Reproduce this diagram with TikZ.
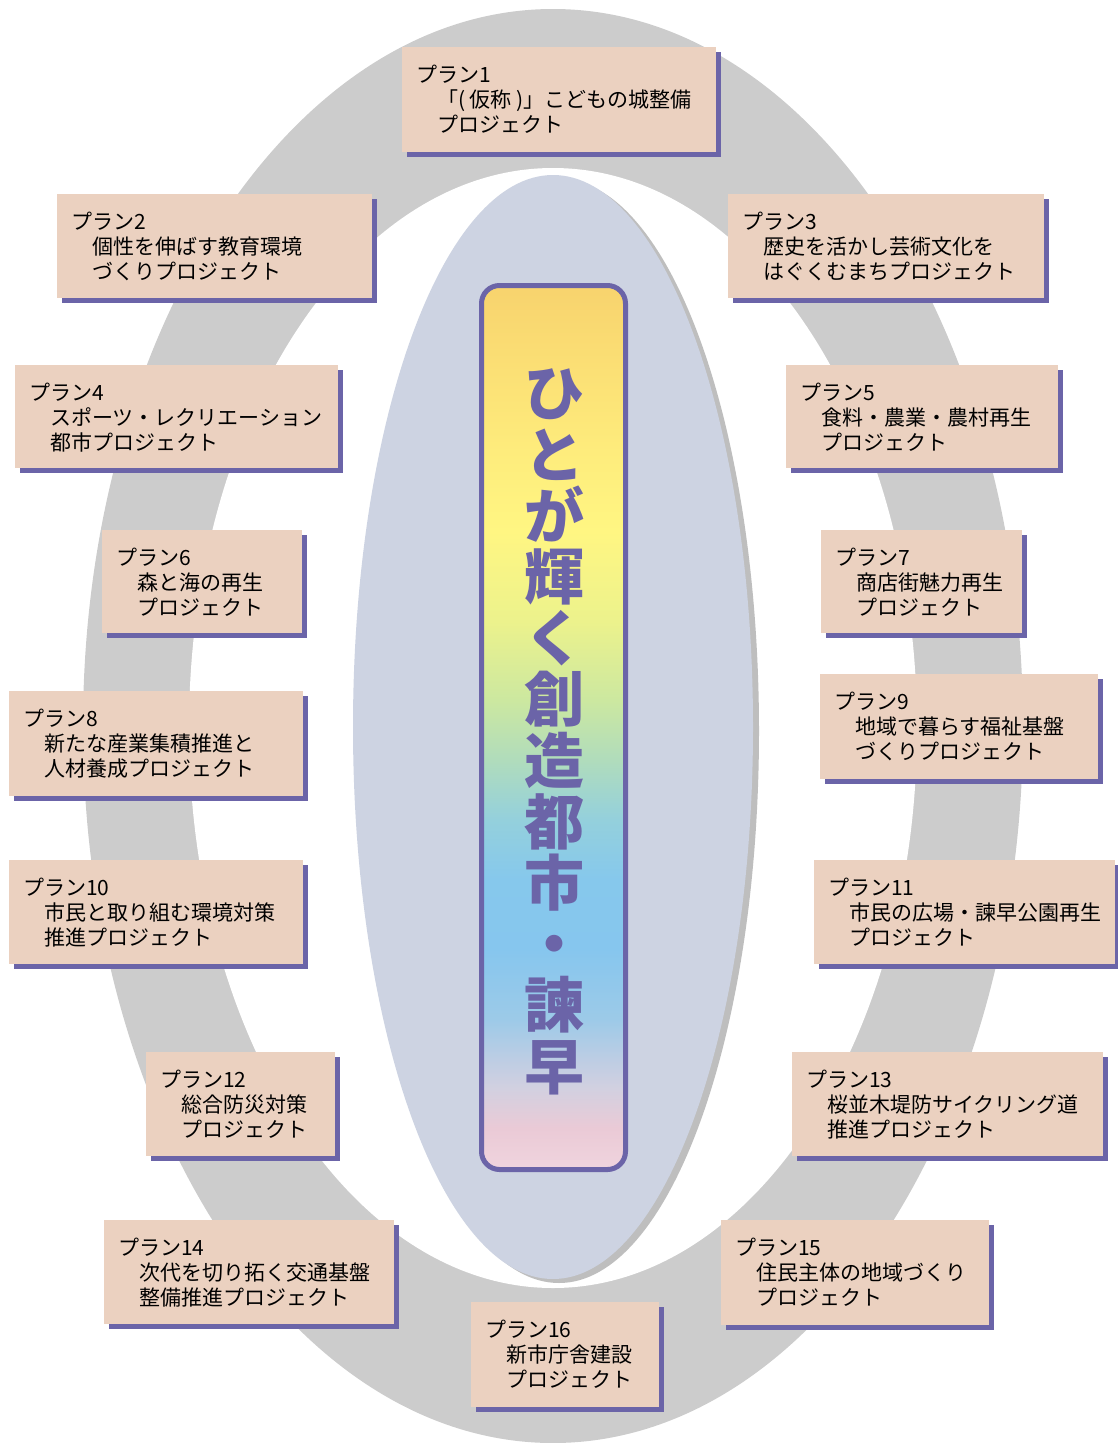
\documentclass[tikz,border=0pt]{standalone}
\usepackage{fontspec}
\newfontfamily\jpfont{Noto Sans CJK JP}
\usetikzlibrary{shadows}
\definecolor{ringgray}{HTML}{CCCCCC}
\definecolor{ellblue}{HTML}{CDD3E2}
\definecolor{ellshadow}{HTML}{BEBEBE}
\definecolor{purp}{HTML}{6B64A8}
\definecolor{peach}{HTML}{EBD1C0}
\definecolor{gA}{HTML}{F0D4DE}
\definecolor{gB}{HTML}{EACAD6}
\definecolor{gC}{HTML}{D2D0E0}
\definecolor{gD}{HTML}{BCCDE4}
\definecolor{gE}{HTML}{9CCAE8}
\definecolor{gF}{HTML}{86C6EE}
\definecolor{gG}{HTML}{86C8EC}
\definecolor{gH}{HTML}{94D0DC}
\definecolor{gI}{HTML}{B0DCBC}
\definecolor{gJ}{HTML}{CCE8A0}
\definecolor{gK}{HTML}{ECF28C}
\definecolor{gL}{HTML}{FFF682}
\definecolor{gM}{HTML}{FEEC7C}
\definecolor{gN}{HTML}{F8D46E}
\pgfdeclareverticalshading{rainbow}{100bp}{color(0bp)=(gA); color(25bp)=(gA); color(27.35bp)=(gB); color(29.6bp)=(gC); color(31.3bp)=(gD); color(33.55bp)=(gE); color(37.5bp)=(gF); color(41.4bp)=(gG); color(44.8bp)=(gH); color(48.15bp)=(gI); color(51.55bp)=(gJ); color(56bp)=(gK); color(61.1bp)=(gL); color(65.6bp)=(gM); color(74.6bp)=(gN); color(100bp)=(gN)}
\tikzset{
  planbox/.style={fill=peach, inner sep=0pt, outer sep=0pt,
    drop shadow={shadow xshift=5pt, shadow yshift=-5pt, fill=purp, opacity=1}},
  plantext/.style={align=left, inner sep=0pt, text=black,
    font=\jpfont\fontsize{21}{25}\selectfont},
  banner/.style={shade, shading=rainbow, draw=purp, line width=5pt,
    rounded corners=18pt, minimum width=144pt, minimum height=884pt, inner sep=0pt},
  titlechar/.style={text=purp, inner sep=0pt, text height=0.88em, text depth=0.12em,
    font=\jpfont\bfseries\fontsize{60}{60}\selectfont}
}
\newcommand\planbox[8]{%
  \node[planbox, minimum width={#4-#2}, minimum height={#5-#3}, anchor=north west] (#1) at (#2,#3) {};
  \node[plantext, anchor=north west] (#1t) at ([xshift=14pt,yshift=-18pt]#1.north west)
    {#6\\\hspace*{21pt}#7\\\hspace*{21pt}#8};
}
\begin{document}
\begin{tikzpicture}[x=1pt,y=-1pt]
\useasboundingbox (0,0) rectangle (1118,1443);
\fill[ringgray] (553,726) ellipse [x radius=470pt, y radius=717pt];
\fill[white] (553,728) ellipse [x radius=364pt, y radius=560pt];
\fill[ellshadow] (559,731) ellipse [x radius=200pt, y radius=552pt];
\fill[ellblue] (553,727) ellipse [x radius=200pt, y radius=552pt];
\node[banner] (banner) at (553.5,727.5) {};
\foreach \c [count=\i from 0] in {ひ,と,が,輝,く,創,造,都,市,・,諫,早}
  \node[titlechar] (c\i) at (554,{412+61.2*\i}) {\c};
\planbox{b1}{402}{47}{716}{152}{プラン1}{「( 仮称 )」こどもの城整備}{プロジェクト}
\planbox{b2}{57}{194}{372}{298}{プラン2}{個性を伸ばす教育環境}{づくりプロジェクト}
\planbox{b3}{728}{194}{1044}{298}{プラン3}{歴史を活かし芸術文化を}{はぐくむまちプロジェクト}
\planbox{b4}{15}{365}{338}{468}{プラン4}{スポーツ・レクリエーション}{都市プロジェクト}
\planbox{b5}{786}{365}{1058}{468}{プラン5}{食料・農業・農村再生}{プロジェクト}
\planbox{b6}{102}{530}{302}{633}{プラン6}{森と海の再生}{プロジェクト}
\planbox{b7}{821}{530}{1022}{633}{プラン7}{商店街魅力再生}{プロジェクト}
\planbox{b8}{9}{691}{303}{796}{プラン8}{新たな産業集積推進と}{人材養成プロジェクト}
\planbox{b9}{820}{674}{1098}{779}{プラン9}{地域で暮らす福祉基盤}{づくりプロジェクト}
\planbox{b10}{9}{860}{303}{964}{プラン10}{市民と取り組む環境対策}{推進プロジェクト}
\planbox{b11}{814}{860}{1115}{964}{プラン11}{市民の広場・諫早公園再生}{プロジェクト}
\planbox{b12}{146}{1052}{335}{1156}{プラン12}{総合防災対策}{プロジェクト}
\planbox{b13}{792}{1052}{1103}{1156}{プラン13}{桜並木堤防サイクリング道}{推進プロジェクト}
\planbox{b14}{104}{1220}{394}{1324}{プラン14}{次代を切り拓く交通基盤}{整備推進プロジェクト}
\planbox{b15}{721}{1220}{989}{1325}{プラン15}{住民主体の地域づくり}{プロジェクト}
\planbox{b16}{471}{1302}{659}{1407}{プラン16}{新市庁舎建設}{プロジェクト}
\end{tikzpicture}
\end{document}
